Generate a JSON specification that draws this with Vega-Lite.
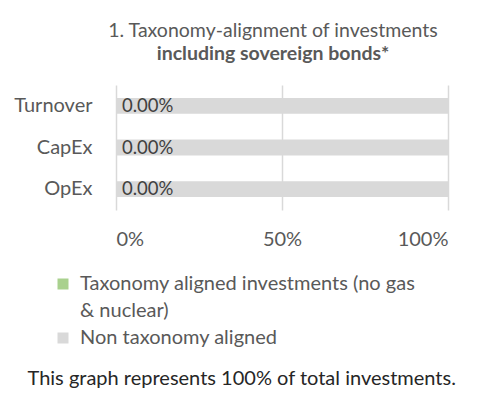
{
  "$schema": "https://vega.github.io/schema/vega-lite/v6.json",
  "width": 332,
  "height": 125,
  "autosize": {"type": "none"},
  "padding": {"left": 116, "top": 85, "right": 34, "bottom": 195},
  "background": "white",
  "config": {
    "font": "Lato",
    "view": {"stroke": null},
    "axis": {"labelFont": "Lato", "labelColor": "#595959", "labelFontSize": 20, "domain": false, "ticks": false},
    "style": {"guide-label": {"lineHeight": 27}}
  },
  "title": {
    "text": "1. Taxonomy-alignment of investments",
    "subtitle": "including sovereign bonds*",
    "anchor": "middle",
    "dx": -9,
    "offset": 21,
    "font": "Lato",
    "fontSize": 19.5,
    "fontWeight": "normal",
    "color": "#595959",
    "subtitleFont": "Lato",
    "subtitleFontSize": 19.5,
    "subtitleFontWeight": "bold",
    "subtitleColor": "#595959",
    "subtitlePadding": 3
  },
  "data": {
    "values": [
      {"category": "Turnover", "series": "Taxonomy aligned investments (no gas & nuclear)", "value": 0},
      {"category": "Turnover", "series": "Non taxonomy aligned", "value": 1},
      {"category": "CapEx", "series": "Taxonomy aligned investments (no gas & nuclear)", "value": 0},
      {"category": "CapEx", "series": "Non taxonomy aligned", "value": 1},
      {"category": "OpEx", "series": "Taxonomy aligned investments (no gas & nuclear)", "value": 0},
      {"category": "OpEx", "series": "Non taxonomy aligned", "value": 1}
    ]
  },
  "encoding": {
    "y": {
      "field": "category",
      "type": "nominal",
      "sort": ["Turnover", "CapEx", "OpEx"],
      "scale": {"paddingInner": 0.62, "paddingOuter": 0.31},
      "axis": {"title": null, "labelPadding": 24, "grid": false}
    }
  },
  "layer": [
    {
      "mark": {"type": "bar"},
      "encoding": {
        "x": {
          "field": "value",
          "type": "quantitative",
          "stack": "zero",
          "scale": {"domain": [0, 1]},
          "axis": {
            "values": [0, 0.5, 1],
            "format": "%",
            "grid": true,
            "gridColor": "#d9d9d9",
            "gridWidth": 1.5,
            "labelPadding": 19,
            "title": "This graph represents 100% of total investments.",
            "titleFont": "Lato",
            "titleFontSize": 20,
            "titleFontWeight": "normal",
            "titleColor": "#262626",
            "titleAlign": "left",
            "titleAnchor": "start",
            "titleBaseline": "middle",
            "titleX": -89,
            "titleY": 168
          }
        },
        "color": {
          "field": "series",
          "type": "nominal",
          "scale": {
            "domain": ["Taxonomy aligned investments (no gas & nuclear)", "Non taxonomy aligned"],
            "range": ["#a9d18e", "#d9d9d9"]
          },
          "legend": {
            "title": null,
            "orient": "none",
            "legendX": -63,
            "legendY": 189,
            "direction": "vertical",
            "symbolType": "square",
            "symbolSize": 121,
            "symbolStrokeWidth": 0,
            "labelFont": "Lato",
            "labelFontSize": 20,
            "labelColor": "#595959",
            "labelLimit": 400,
            "labelOffset": 7,
            "rowPadding": 7,
            "labelExpr": "datum.label == 'Taxonomy aligned investments (no gas & nuclear)' ? ['Taxonomy aligned investments (no gas', '& nuclear)'] : datum.label"
          }
        }
      }
    },
    {
      "transform": [{"filter": "datum.series == 'Taxonomy aligned investments (no gas & nuclear)'"}],
      "mark": {"type": "text", "align": "left", "baseline": "middle", "dx": 6, "fontSize": 18.5, "font": "Lato", "color": "#404040"},
      "encoding": {
        "x": {"field": "value", "type": "quantitative"},
        "text": {"field": "value", "type": "quantitative", "format": ".2%"}
      }
    }
  ]
}
